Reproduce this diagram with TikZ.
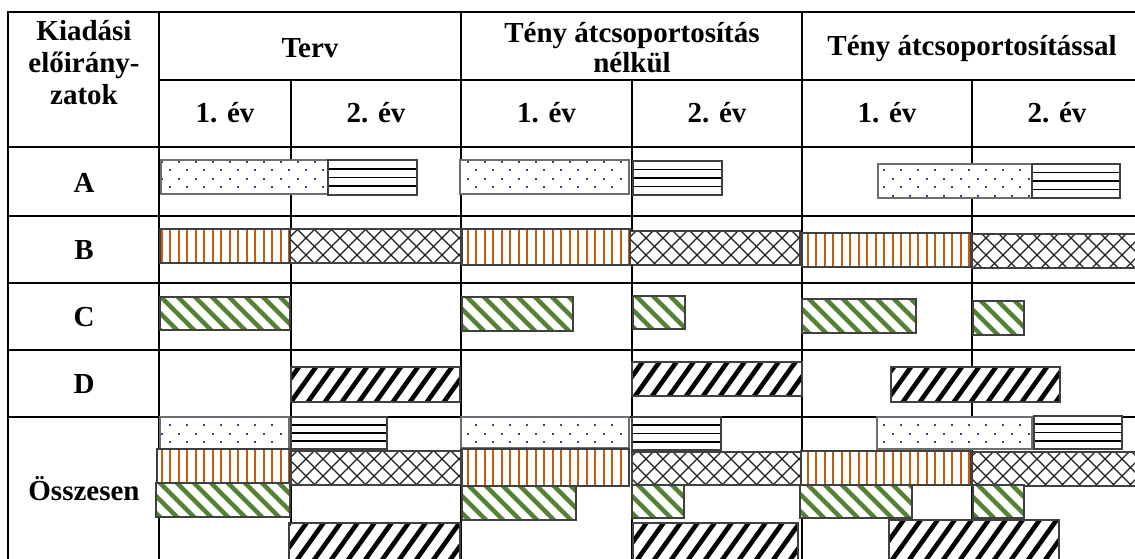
\documentclass[tikz,border=0pt]{standalone}
\usepackage{fontspec}
\setmainfont{Liberation Serif}
\definecolor{dotblue}{RGB}{47,72,130}
\definecolor{vorange}{RGB}{197,90,17}
\definecolor{ggreen}{RGB}{84,130,53}
\definecolor{hatchgray}{RGB}{30,30,30}
\definecolor{framegray}{RGB}{64,64,64}
\definecolor{lightframe}{RGB}{110,110,110}

% fill patterns, each takes x1,y1,x2,y2 (y grows downwards)
\newcommand\barpatdots[4]{%
  \pgfmathtruncatemacro\ja{floor(#2/8.5)}%
  \pgfmathtruncatemacro\jb{ceil(#4/8.5)}%
  \pgfmathtruncatemacro\ia{floor(#1/17)-1}%
  \pgfmathtruncatemacro\ib{ceil(#3/17)}%
  \foreach \j in {\ja,...,\jb}{%
    \foreach \i in {\ia,...,\ib}{%
      \pgfmathsetmacro\xx{17*\i+8.5*mod(\j,2)}%
      \fill[dotblue] ({\xx-1},{\j*8.5-1}) rectangle ++(2,2);
    }%
  }%
}
\newcommand\barpathl[4]{%
  \foreach \k in {1,2,3}{%
    \draw[line width=1.6pt] (#1,{#2+(#4-#2)*\k/4}) -- (#3,{#2+(#4-#2)*\k/4});
  }%
}
\newcommand\barpatvl[4]{%
  \pgfmathtruncatemacro\ia{floor(#1/8.5)}%
  \pgfmathtruncatemacro\ib{ceil(#3/8.5)}%
  \foreach \i in {\ia,...,\ib}{%
    \draw[vorange,line width=2pt] ({\i*8.5},#2) -- ({\i*8.5},#4);
  }%
}
\newcommand\barpatxh[4]{%
  \pgfmathtruncatemacro\ka{floor((#2-#3)/17)-1}%
  \pgfmathtruncatemacro\kb{ceil((#4-#1)/17)+1}%
  \foreach \k in {\ka,...,\kb}{%
    \draw[hatchgray,line width=1.1pt] ({#1-5},{#1-5+17*(\k)}) -- ({#3+5},{#3+5+17*(\k)});
  }%
  \pgfmathtruncatemacro\ma{floor((#1+#2)/17)-1}%
  \pgfmathtruncatemacro\mb{ceil((#3+#4)/17)+1}%
  \foreach \k in {\ma,...,\mb}{%
    \draw[hatchgray,line width=1.1pt] ({#1-5},{17*(\k)-(#1-5)}) -- ({#3+5},{17*(\k)-(#3+5)});
  }%
}
% green stripes falling to the right, 45 degrees
\newcommand\barpatgd[4]{%
  \pgfmathtruncatemacro\ka{floor((#2-#3)/17)-2}%
  \pgfmathtruncatemacro\kb{ceil((#4-#1)/17)+2}%
  \foreach \k in {\ka,...,\kb}{%
    \draw[ggreen,line width=4.5pt] ({#1-10},{#1-10+17*(\k)}) -- ({#3+10},{#3+10+17*(\k)});
  }%
}
% black stripes rising to the right, a little steeper (slope 1.4)
\newcommand\barpatkd[4]{%
  \pgfmathtruncatemacro\ma{floor((1.4*#1+#2)/23.8)-2}%
  \pgfmathtruncatemacro\mb{ceil((1.4*#3+#4)/23.8)+2}%
  \foreach \k in {\ma,...,\mb}{%
    \draw[black,line width=4.6pt] ({#1-15},{23.8*(\k)-1.4*(#1-15)}) -- ({#3+15},{23.8*(\k)-1.4*(#3+15)});
  }%
}
% one bar: pattern name, x1, y1, x2, y2, frame style
\newcommand\drawbar[6][barframe]{%
  \begin{scope}
    \clip (#3,#4) rectangle (#5,#6);
    \fill[white] (#3,#4) rectangle (#5,#6);
    \csname barpat#2\endcsname{#3}{#4}{#5}{#6}%
  \end{scope}
  \draw[#1] (#3,#4) rectangle (#5,#6);
}

\begin{document}
\begin{tikzpicture}[x=1pt,y=-1pt,
  gridline/.style={line width=2pt,line cap=rect},
  lbl/.style={anchor=base,inner sep=0pt,font=\fontsize{29}{32}\selectfont\bfseries},
  barframe/.style={draw=framegray,line width=1.2pt},
  softframe/.style={draw=lightframe,line width=1.2pt}]
\useasboundingbox (0,0) rectangle (1135,558);
\clip (0,0) rectangle (1135,558);
\fill[white] (0,0) rectangle (1135,558);

% table rules
\draw[gridline] (8,12) -- (1142,12);
\draw[gridline] (159,80) -- (1142,80);
\foreach \yy in {147,216,283,350,417,560}{\draw[gridline] (8,\yy) -- (1142,\yy);}
\foreach \xx in {8,159,461,802,1142}{\draw[gridline] (\xx,12) -- (\xx,560);}
\foreach \xx in {291,632,972}{\draw[gridline] (\xx,80) -- (\xx,560);}

% row A
\drawbar[softframe]{dots}{161}{160}{328}{194}
\drawbar{hl}{328}{160}{417}{195}
\drawbar[softframe]{dots}{460}{160}{629}{194}
\drawbar{hl}{633}{161}{722}{195}
\drawbar[softframe]{dots}{878}{164}{1032}{198}
\drawbar{hl}{1032}{164}{1120}{198}
% row B
\drawbar{vl}{160}{229}{290}{263}
\drawbar{xh}{290}{229}{461}{263}
\drawbar{vl}{462}{229}{630}{265}
\drawbar{xh}{630}{231}{800}{265}
\drawbar{vl}{802}{233}{971}{267}
\drawbar{xh}{972}{234}{1150}{268}
% row C
\drawbar{gd}{160}{297}{290}{330}
\drawbar{gd}{462}{297}{573}{331}
\drawbar{gd}{633}{296}{685}{329}
\drawbar{gd}{802}{299}{916}{333}
\drawbar{gd}{973}{301}{1024}{335}
% row D
\drawbar{kd}{291}{367}{460}{402}
\drawbar{kd}{632}{362}{802}{396}
\drawbar{kd}{891}{367}{1060}{402}
% totals
\drawbar[softframe]{dots}{160}{417}{289}{449}
\drawbar{hl}{291}{417}{387}{449}
\drawbar{vl}{157}{449}{290}{483}
\drawbar{xh}{291}{451}{461}{485}
\drawbar{gd}{156}{483}{290}{517}
\drawbar{kd}{289}{523}{460}{562}
\drawbar[softframe]{dots}{461}{417}{629}{448}
\drawbar{hl}{632}{417}{721}{450}
\drawbar{vl}{462}{449}{629}{486}
\drawbar{xh}{632}{452}{801}{485}
\drawbar{gd}{462}{486}{576}{520}
\drawbar{gd}{632}{485}{684}{518}
\drawbar{kd}{633}{523}{798}{562}
\drawbar[softframe]{dots}{877}{417}{1032}{449}
\drawbar{hl}{1034}{416}{1122}{449}
\drawbar{vl}{801}{451}{971}{485}
\drawbar{xh}{972}{452}{1150}{486}
\drawbar{gd}{800}{485}{912}{518}
\drawbar{gd}{973}{485}{1024}{518}
\drawbar{kd}{889}{520}{1059}{562}

% header texts
\node[lbl] (k1) at (84,40) {Kiadási};
\node[lbl] (k2) at (84,72) {előirány-};
\node[lbl] (k3) at (84,104) {zatok};
\node[lbl] (terv) at (310,57) {Terv};
\node[lbl] (tn1) at (632,42) {Tény átcsoportosítás};
\node[lbl] (tn2) at (632,72) {nélkül};
\node[lbl] (ta) at (972,55) {Tény átcsoportosítással};
\node[lbl] (y1) at (225,122) {1. év};
\node[lbl] (y2) at (376,122) {2. év};
\node[lbl] (y3) at (546.5,122) {1. év};
\node[lbl] (y4) at (717,122) {2. év};
\node[lbl] (y5) at (887,122) {1. év};
\node[lbl] (y6) at (1057,122) {2. év};
% row labels
\node[lbl] (ra) at (84,192) {A};
\node[lbl] (rb) at (84,259) {B};
\node[lbl] (rc) at (84,326) {C};
\node[lbl] (rd) at (84,393) {D};
\node[lbl] (rt) at (84,500) {Összesen};
\end{tikzpicture}
\end{document}
